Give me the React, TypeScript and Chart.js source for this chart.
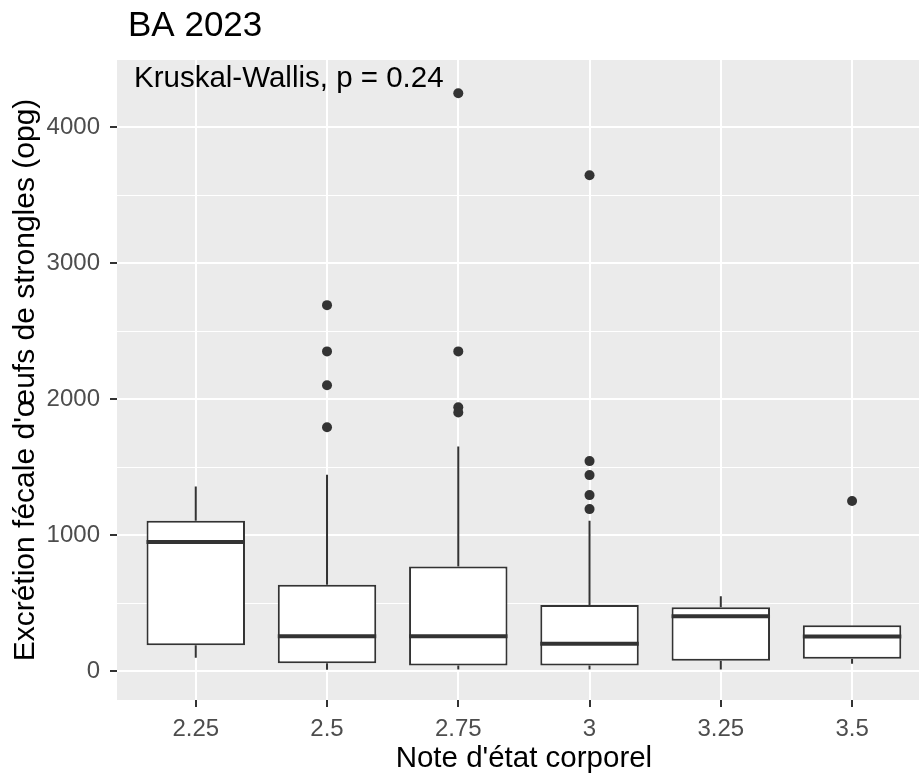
import React, { useEffect, useRef } from 'react';
import { Chart, registerables } from 'chart.js';

Chart.register(...registerables);

// ---- data ----
const categories = ['2.25', '2.5', '2.75', '3', '3.25', '3.5'];
const whiskerLow = [98, 10, 12, 12, 12, 54];
const q1 = [191, 59, 42, 42, 76, 91];
const median = [950, 257, 257, 201, 404, 255];
const q3 = [1106, 636, 769, 487, 470, 338];
const whiskerHigh = [1358, 1444, 1652, 1106, 551, 338];
const outliers225: number[] = [];
const outliers25 = [2692, 2352, 2103, 1794];
const outliers275 = [4251, 2352, 1941, 1902];
const outliers3 = [3647, 1545, 1442, 1295, 1192];
const outliers325: number[] = [];
const outliers35 = [1251];
const outliers = [outliers225, outliers25, outliers275, outliers3, outliers325, outliers35];

const yMajorTicks = [0, 1000, 2000, 3000, 4000];
const yGridValues = [0, 500, 1000, 1500, 2000, 2500, 3000, 3500, 4000];
const titleText = 'BA 2023';
const testText = 'Kruskal-Wallis, p = 0.24';
const xTitle = "Note d'état corporel";
const yTitle = "Excrétion fécale d'œufs de strongles (opg)";

const FONT = "'Liberation Sans', Arial, sans-serif";
const BOX_HALF = 0.375;

export default function App() {
  const ref = useRef<HTMLCanvasElement>(null);

  useEffect(() => {
    if (!ref.current) return;

    const boxData = categories.map((_, i) => ({ x: i, y: [q1[i], q3[i]] }));
    const whiskerData: any[] = [];
    const medianData: any[] = [];
    categories.forEach((_, i) => {
      whiskerData.push(
        { x: i, y: whiskerLow[i] }, { x: i, y: q1[i] }, { x: i, y: null },
        { x: i, y: q3[i] }, { x: i, y: whiskerHigh[i] }, { x: i, y: null }
      );
      medianData.push(
        { x: i - BOX_HALF, y: median[i] }, { x: i + BOX_HALF, y: median[i] }, { x: i, y: null }
      );
    });
    const outlierData = outliers.flatMap((arr, i) => arr.map((v) => ({ x: i, y: v })));

    const panelBg = {
      id: 'panelBg',
      beforeDraw(chart: any) {
        const { ctx, chartArea } = chart;
        const { left, top, right, bottom } = chartArea;
        ctx.save();
        ctx.fillStyle = '#EBEBEB';
        ctx.fillRect(left, top, right - left, bottom - top);
        ctx.restore();
      },
    };

    const ggText = {
      id: 'ggText',
      afterDraw(chart: any) {
        const { ctx, chartArea } = chart;
        const xs = chart.scales.x;
        ctx.save();
        ctx.fillStyle = '#000000';
        ctx.textBaseline = 'alphabetic';
        ctx.textAlign = 'left';
        ctx.font = `35px ${FONT}`;
        ctx.fillText(titleText, 128, 36);
        ctx.font = `29.5px ${FONT}`;
        ctx.fillText(testText, chartArea.left + 17, chartArea.top + 27);
        ctx.textAlign = 'center';
        ctx.fillText(xTitle, xs.getPixelForValue(2.5), 767);
        ctx.restore();
      },
    };

    const chart = new Chart(ref.current, {
      type: 'bar',
      data: {
        datasets: [
          {
            type: 'bar',
            data: boxData as any,
            backgroundColor: '#FFFFFF',
            borderColor: '#333333',
            borderWidth: 2,
            borderSkipped: false,
            categoryPercentage: 1,
            barPercentage: 0.75,
            order: 3,
          } as any,
          {
            type: 'line',
            data: whiskerData,
            borderColor: '#333333',
            borderWidth: 2,
            pointRadius: 0,
            spanGaps: false,
            fill: false,
            order: 2,
          } as any,
          {
            type: 'line',
            data: medianData,
            borderColor: '#333333',
            borderWidth: 4,
            pointRadius: 0,
            spanGaps: false,
            fill: false,
            order: 1,
          } as any,
          {
            type: 'scatter',
            data: outlierData,
            pointRadius: 5,
            pointBackgroundColor: '#333333',
            pointBorderWidth: 0,
            order: 0,
          } as any,
        ],
      },
      options: {
        responsive: false,
        animation: false,
        events: [],
        layout: { padding: { top: 60, left: 0, right: 0, bottom: 0 } },
        plugins: { legend: { display: false }, tooltip: { enabled: false }, title: { display: false } },
        scales: {
          x: {
            type: 'linear',
            min: -0.6,
            max: 5.51,
            offset: false,
            border: { display: false },
            grid: {
              offset: false,
              color: '#FFFFFF',
              lineWidth: 2,
              tickColor: '#333333',
              tickWidth: 2,
              tickLength: 7,
            },
            ticks: {
              autoSkip: false,
              maxRotation: 0,
              padding: 8,
              color: '#4D4D4D',
              font: { family: FONT, size: 24 },
              callback: (v: any) => (Number.isInteger(v) ? categories[v] ?? '' : ''),
            },
            afterBuildTicks: (s: any) => {
              s.ticks = categories.map((_, i) => ({ value: i }));
            },
            afterFit: (s: any) => { s.height = 76; },
          },
          y: {
            type: 'linear',
            min: -212,
            max: 4495,
            border: { display: false },
            grid: {
              color: '#FFFFFF',
              lineWidth: (c: any) => (c.tick && yMajorTicks.includes(c.tick.value) ? 2 : 1),
              tickColor: (c: any) => (c.tick && yMajorTicks.includes(c.tick.value) ? '#333333' : 'rgba(0,0,0,0)'),
              tickWidth: 2,
              tickLength: 7,
            },
            ticks: {
              autoSkip: false,
              padding: 10,
              color: '#4D4D4D',
              font: { family: FONT, size: 24 },
              callback: (v: any) => (yMajorTicks.includes(v) ? String(v) : ''),
            },
            afterBuildTicks: (s: any) => {
              s.ticks = yGridValues.map((v) => ({ value: v }));
            },
            title: {
              display: true,
              text: yTitle,
              color: '#000000',
              font: { family: FONT, size: 30 },
              padding: { top: 8, bottom: 0 },
            },
            afterFit: (s: any) => { s.width = 117; },
          },
        },
      } as any,
      plugins: [panelBg, ggText],
    });

    return () => chart.destroy();
  }, []);

  return (
    <div style={{ position: 'fixed', left: 0, top: 0, width: 924, height: 776, background: '#FFFFFF' }}>
      <canvas ref={ref} width={924} height={776} style={{ display: 'block' }} />
    </div>
  );
}
